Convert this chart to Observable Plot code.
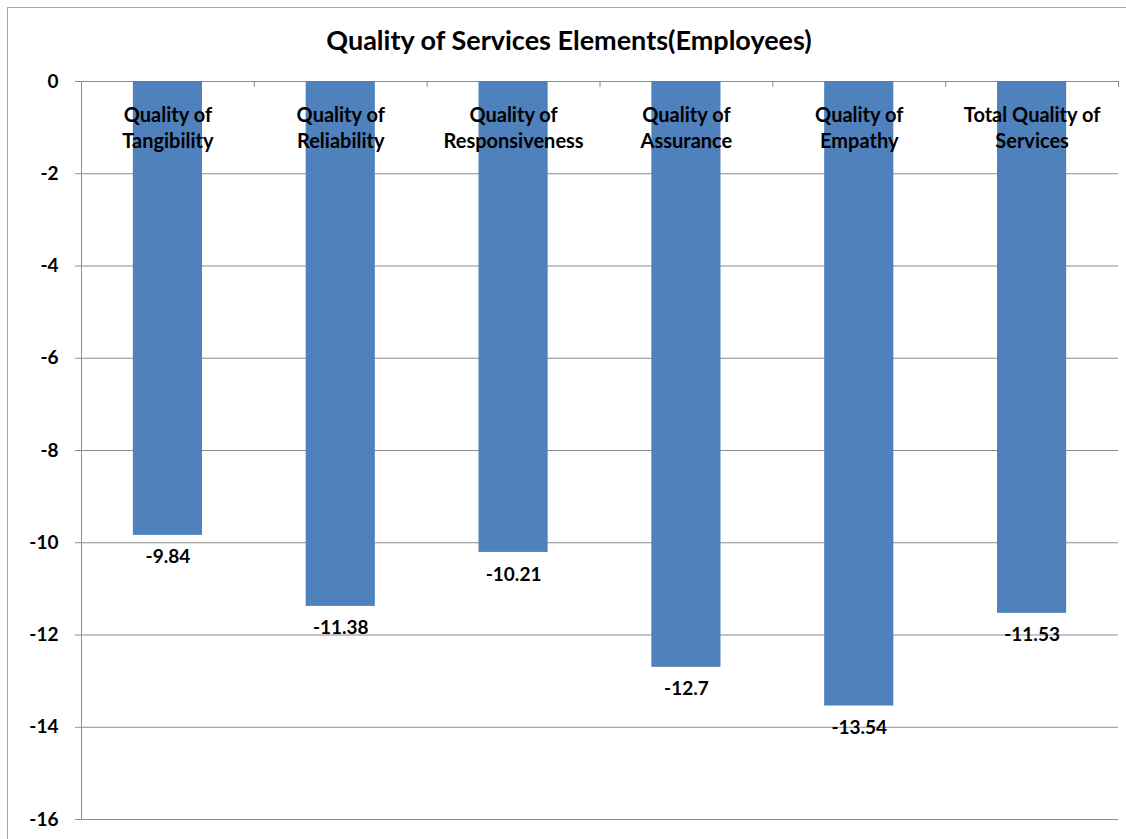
<!DOCTYPE html>
<html>
<head>
<meta charset="utf-8">
<script src="https://cdn.jsdelivr.net/npm/d3@7"></script>
<script src="https://cdn.jsdelivr.net/npm/@observablehq/plot@0.6"></script>
<style>
  html, body { margin: 0; padding: 0; background: #fff; }
  #wrap { position: relative; width: 1126px; height: 839px; overflow: hidden; font-family: Lato, "Open Sans", sans-serif; }
  #frame { position: absolute; left: 7px; top: 7px; width: 1200px; height: 900px; border-left: 1px solid #a6a6a6; border-top: 1px solid #a6a6a6; }
  #title { position: absolute; left: 0; top: 0; width: 1138px; height: 60px; line-height: 80px; text-align: center; font-weight: bold; font-size: 27px; color: #000; }
  #chart { position: absolute; left: 0; top: 60px; }
</style>
</head>
<body>
<div id="wrap">
  <div id="frame"></div>
  <div id="title">Quality of Services Elements(Employees)</div>
  <div id="chart"></div>
</div>
<script>
const categories = [
  "Quality of\nTangibility",
  "Quality of\nReliability",
  "Quality of\nResponsiveness",
  "Quality of\nAssurance",
  "Quality of\nEmpathy",
  "Total Quality of\nServices"
];
const values = [-9.84, -11.38, -10.21, -12.7, -13.54, -11.53];
const yTicks = [0, -2, -4, -6, -8, -10, -12, -14, -16];

const data = categories.map((c, i) => ({ i, category: c, value: values[i] }));
const boundaries = d3.range(categories.length).map(i => i + 0.5);

const barColor = "#4f81bd";
const gridColor = "#8c8c8c";

const plot = Plot.plot({
  width: 1126,
  height: 779,
  marginTop: 21,
  marginBottom: 20,
  marginLeft: 81,
  marginRight: 8,
  style: { fontFamily: "Lato, 'Open Sans', sans-serif", background: "transparent", overflow: "visible" },
  x: { type: "linear", domain: [-0.5, categories.length - 0.5], axis: null },
  y: { domain: [-16, 0], ticks: yTicks, axis: null },
  marks: [
    Plot.ruleY(yTicks, { y: d => d, x1: -0.5, x2: categories.length - 0.5, stroke: gridColor, strokeWidth: 1 }),
    Plot.axisY({ ticks: yTicks, tickSize: 6, tickPadding: 17, stroke: gridColor, tickFormat: d => d === 0 ? "0" : "-" + Math.abs(d), fontSize: 19, fontWeight: "bold", fill: "#000", label: null }),
    Plot.ruleX([-0.5], { y1: -16, y2: 0, stroke: gridColor }),
    Plot.ruleX(boundaries, { x: d => d, y1: 0, y2: -0.13, stroke: gridColor }),
    Plot.rectY(data, { x1: d => d.i - 0.2, x2: d => d.i + 0.2, y1: 0, y2: "value", fill: barColor }),
    Plot.text(data, { x: "i", y: 0, text: "category", lineAnchor: "top", dy: 22, fontSize: 20, fontWeight: "bold", fill: "#000", lineHeight: 1.3 }),
    Plot.text(data, { x: "i", y: "value", text: d => String(d.value), dy: 22, fontSize: 19, fontWeight: "bold", fill: "#000" })
  ]
});
document.getElementById("chart").appendChild(plot);
</script>
</body>
</html>
